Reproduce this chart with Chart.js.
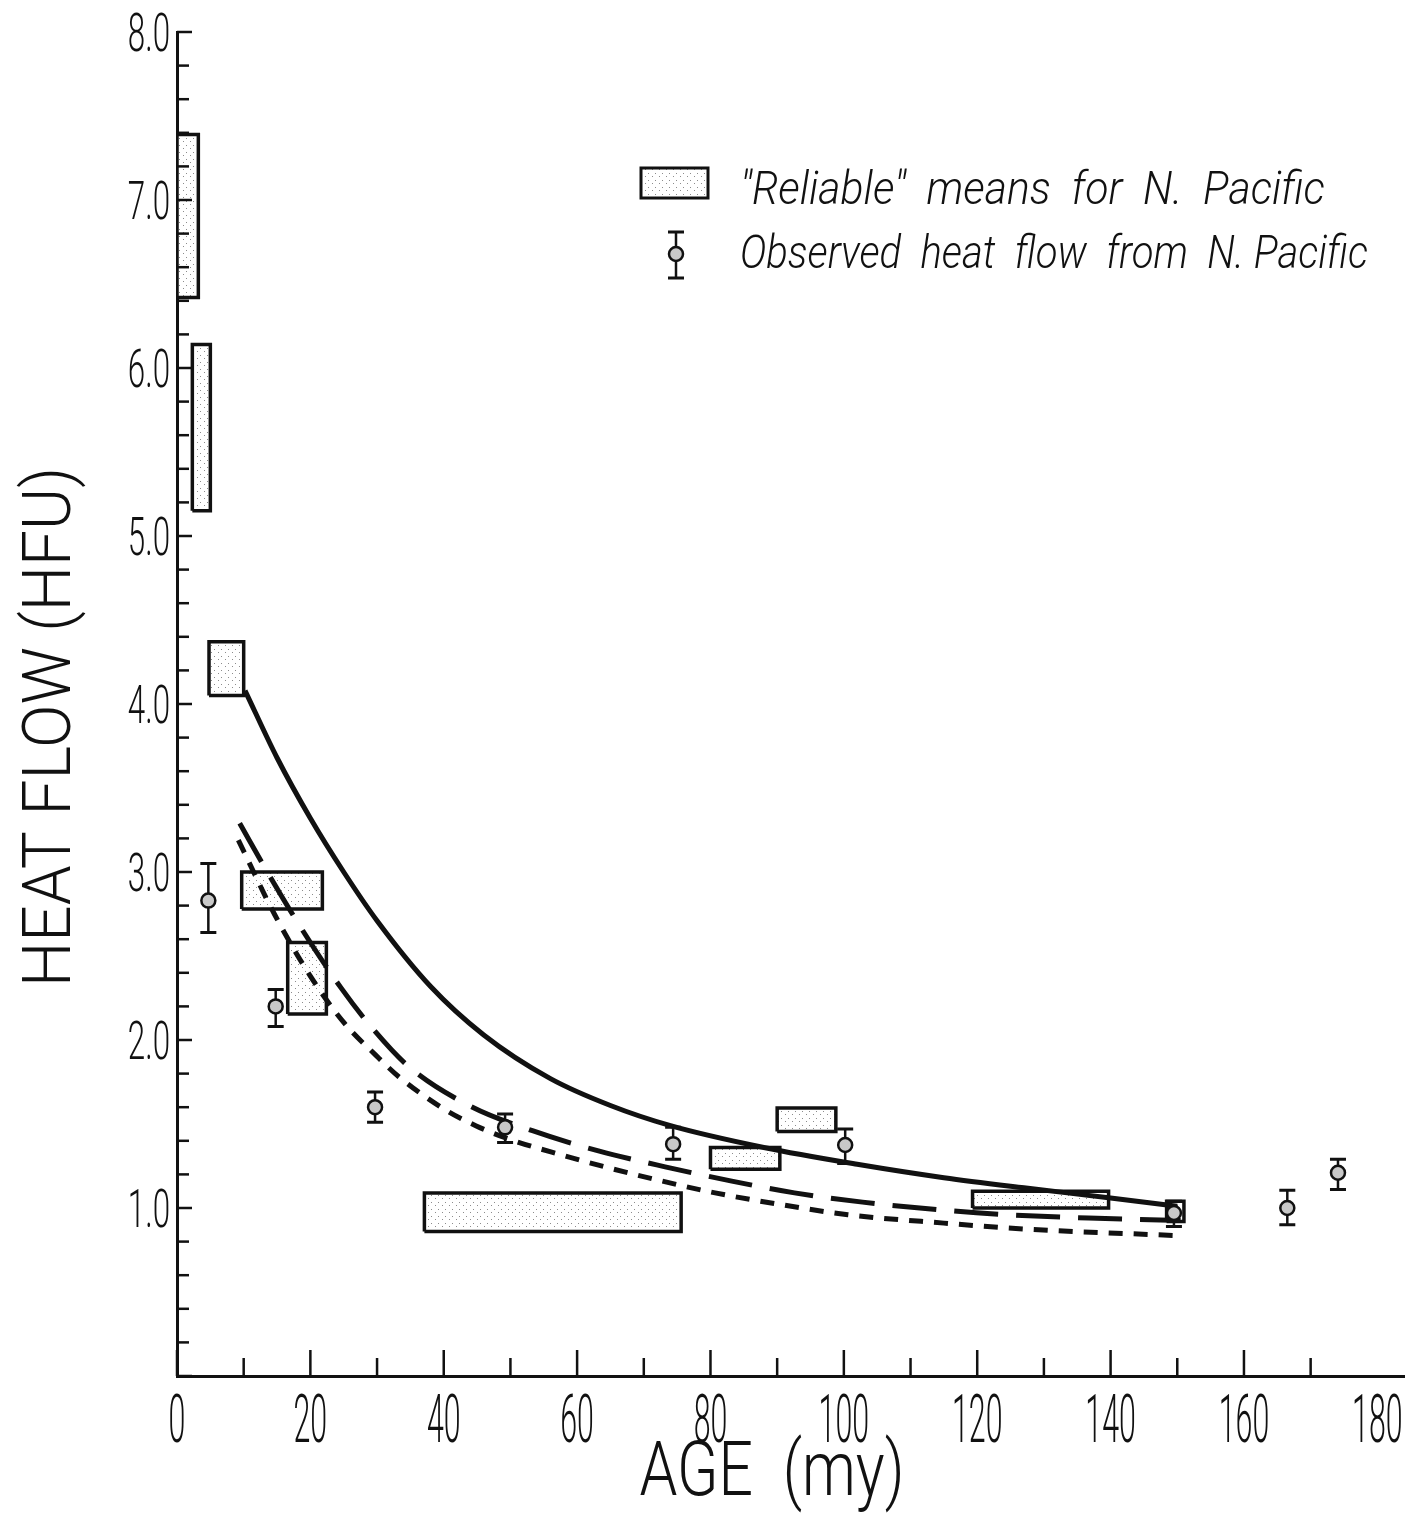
<!DOCTYPE html>
<html>
<head>
<meta charset="utf-8">
<script src="https://cdn.jsdelivr.net/npm/chart.js@4.4.1/dist/chart.umd.min.js"></script>
<style>html,body{margin:0;padding:0;background:#fff}canvas{display:block}</style>
</head>
<body>
<canvas id="c" width="1423" height="1517"></canvas>
<script>
// "Reliable" means for N. Pacific: age range (my) x heat flow range (HFU)
const boxAgeFrom  = [0, 2.3, 4.8, 9.7, 16.6, 37.1, 80.0, 90.0, 119.3, 148.4];
const boxAgeTo    = [3.2, 5.0, 10.0, 21.8, 22.4, 75.6, 90.4, 98.8, 139.7, 151.0];
const boxFlowLow  = [6.42, 5.15, 4.05, 2.78, 2.155, 0.86, 1.23, 1.455, 1.00, 0.92];
const boxFlowHigh = [7.39, 6.14, 4.37, 3.00, 2.58, 1.09, 1.36, 1.595, 1.10, 1.04];

// observed heat flow with error bars
const obsAge  = [4.7, 14.8, 29.7, 49.2, 74.4, 100.2, 149.5, 166.5, 174.1];
const obsFlow = [2.83, 2.20, 1.60, 1.48, 1.38, 1.375, 0.97, 1.00, 1.21];
const obsLow  = [2.64, 2.08, 1.51, 1.39, 1.29, 1.265, 0.89, 0.90, 1.11];
const obsHigh = [3.05, 2.30, 1.69, 1.56, 1.48, 1.47, 1.04, 1.105, 1.29];

// model curves
const solidAge  = [10.2, 15, 20, 25, 30, 38, 46, 56, 65, 74, 88, 102, 115, 127, 140, 150];
const solidFlow = [4.08, 3.68, 3.32, 3.00, 2.71, 2.32, 2.03, 1.77, 1.61, 1.49, 1.36, 1.26, 1.18, 1.12, 1.06, 1.01];

const longDashAge  = [9.4, 13.7, 18.4, 24.6, 29.3, 34.8, 43.8, 53.3, 63.2, 73.2, 83.2, 92.6, 102.8, 114, 124.5, 136.7, 150.5];
const longDashFlow = [3.29, 2.99, 2.68, 2.31, 2.07, 1.84, 1.61, 1.46, 1.34, 1.245, 1.16, 1.09, 1.035, 0.99, 0.96, 0.94, 0.925];

const shortDashAge  = [9.2, 14.6, 20, 25.1, 29.8, 33.3, 40, 44.8, 49.8, 58.2, 63.2, 71.7, 80.7, 90.6, 100.6, 115, 127, 150.5];
const shortDashFlow = [3.19, 2.75, 2.38, 2.10, 1.91, 1.78, 1.59, 1.49, 1.41, 1.31, 1.255, 1.17, 1.09, 1.02, 0.96, 0.91, 0.875, 0.835];

// axis labels
const xLabelValues = [0, 20, 40, 60, 80, 100, 120, 140, 160, 180];
const yLabelValues = [1, 2, 3, 4, 5, 6, 7, 8];
const legendLabels = ['"Reliable"  means  for  N.  Pacific', 'Observed  heat  flow  from  N. Pacific'];

const INK = '#111';
const FONT = 'Roboto, "Liberation Sans", sans-serif';

// light stipple for the boxes
const stipple = (() => {
  const pc = document.createElement('canvas');
  pc.width = 7; pc.height = 7;
  const p = pc.getContext('2d');
  p.fillStyle = '#fff'; p.fillRect(0, 0, 7, 7);
  p.fillStyle = 'rgba(0,0,0,0.45)';
  p.fillRect(1, 1, 1, 1); p.fillRect(4, 5, 1, 1);
  return p.createPattern(pc, 'repeat');
})();

const pts = (xs, ys) => xs.map((x, i) => ({x: x, y: ys[i]}));

const boxSets = boxAgeFrom.map((x0, i) => ({
  data: [
    {x: x0, y: boxFlowLow[i]}, {x: boxAgeTo[i], y: boxFlowLow[i]},
    {x: boxAgeTo[i], y: boxFlowHigh[i]}, {x: x0, y: boxFlowHigh[i]},
    {x: x0, y: boxFlowLow[i]}
  ],
  showLine: true,
  fill: 'shape',
  backgroundColor: stipple,
  borderColor: INK,
  borderWidth: 3.5,
  borderJoinStyle: 'miter',
  pointRadius: 0,
  tension: 0,
}));

const curve = (xs, ys, dash) => ({
  data: pts(xs, ys),
  showLine: true,
  fill: false,
  borderColor: INK,
  borderWidth: 5,
  borderDash: dash,
  cubicInterpolationMode: 'monotone',
  pointRadius: 0,
});

// condensed lettering, like the original stencil text
function letter(ctx, text, x, y, size, o) {
  ctx.save();
  ctx.font = (o.italic ? 'italic ' : '') + '300 ' + size + 'px ' + FONT;
  const w = ctx.measureText(text).width;
  const sx = o.width ? o.width / w : o.sx;
  ctx.translate(x, y);
  if (o.rotate) ctx.rotate(o.rotate);
  ctx.scale(sx, 1);
  ctx.textAlign = o.align || 'center';
  ctx.textBaseline = 'alphabetic';
  ctx.fillStyle = INK;
  ctx.fillText(text, 0, 0);
  ctx.restore();
}

function errorBar(ctx, px, top, bot) {
  ctx.strokeStyle = INK;
  ctx.lineWidth = 2.5;
  ctx.beginPath(); ctx.moveTo(px, top); ctx.lineTo(px, bot); ctx.stroke();
  ctx.lineWidth = 3;
  ctx.beginPath();
  ctx.moveTo(px - 8, top); ctx.lineTo(px + 8, top);
  ctx.moveTo(px - 8, bot); ctx.lineTo(px + 8, bot);
  ctx.stroke();
}

const decor = {
  id: 'decor',
  beforeDatasetsDraw(chart) {
    const {ctx, scales: {x, y}} = chart;
    ctx.save();
    obsAge.forEach((a, i) => errorBar(ctx, x.getPixelForValue(a), y.getPixelForValue(obsHigh[i]), y.getPixelForValue(obsLow[i])));
    ctx.restore();
  },
  afterDraw(chart) {
    const {ctx, chartArea: area, scales: {x, y}} = chart;
    ctx.save();
    ctx.strokeStyle = INK;
    ctx.lineWidth = 2.5;
    // inward tick marks
    y.ticks.forEach(t => {
      const py = y.getPixelForValue(t.value);
      const major = Math.abs(t.value - Math.round(t.value)) < 1e-6;
      ctx.beginPath(); ctx.moveTo(area.left, py); ctx.lineTo(area.left + (major ? 15 : 12), py); ctx.stroke();
    });
    x.ticks.forEach(t => {
      const px = x.getPixelForValue(t.value);
      const major = t.value % 20 === 0;
      ctx.beginPath(); ctx.moveTo(px, area.bottom); ctx.lineTo(px, area.bottom - (major ? 26 : 18)); ctx.stroke();
    });
    ctx.restore();

    // tick labels
    xLabelValues.forEach(v => letter(ctx, String(v), x.getPixelForValue(v), area.bottom + 66, 66, {sx: 0.46}));
    yLabelValues.forEach(v => letter(ctx, v.toFixed(1), area.left - 7, y.getPixelForValue(v) + 19, 54, {sx: 0.58, align: 'right'}));

    // axis titles
    letter(ctx, 'AGE  (my)', 772, 1495, 76, {width: 265});
    letter(ctx, 'HEAT FLOW (HFU)', 70, 727, 67, {width: 520, rotate: -Math.PI / 2});

    // legend
    ctx.save();
    ctx.fillStyle = stipple;
    ctx.fillRect(641, 168, 67, 30);
    ctx.strokeStyle = INK; ctx.lineWidth = 3;
    ctx.strokeRect(641, 168, 67, 30);
    errorBar(ctx, 676, 232, 278);
    ctx.beginPath(); ctx.arc(676, 254, 7, 0, Math.PI * 2);
    ctx.fillStyle = '#c8c8c8'; ctx.fill();
    ctx.lineWidth = 2.5; ctx.stroke();
    ctx.restore();
    letter(ctx, legendLabels[0], 740, 204, 46, {width: 585, align: 'left', italic: true});
    letter(ctx, legendLabels[1], 740, 268, 46, {width: 628, align: 'left', italic: true});
  }
};

new Chart(document.getElementById('c'), {
  type: 'scatter',
  data: {
    datasets: [
      {
        data: pts(obsAge, obsFlow),
        pointRadius: 7,
        pointStyle: 'circle',
        backgroundColor: '#c8c8c8',
        borderColor: INK,
        borderWidth: 2.5,
      },
      curve(solidAge, solidFlow, []),
      curve(longDashAge, longDashFlow, [44, 18]),
      curve(shortDashAge, shortDashFlow, [14, 11]),
      ...boxSets
    ]
  },
  options: {
    responsive: false,
    animation: false,
    devicePixelRatio: 1,
    layout: {padding: {top: 32, right: 19, left: 0, bottom: 0}},
    plugins: {legend: {display: false}, tooltip: {enabled: false}},
    scales: {
      x: {
        type: 'linear', min: 0, max: 184,
        ticks: {display: false, stepSize: 10},
        grid: {drawOnChartArea: false, drawTicks: false},
        border: {display: true, color: INK, width: 3},
        afterBuildTicks: s => { s.ticks = s.ticks.filter(t => t.value <= 180); },
        afterFit: s => { s.height = 141; },
      },
      y: {
        type: 'linear', min: 0, max: 8,
        ticks: {display: false, stepSize: 0.2},
        grid: {drawOnChartArea: false, drawTicks: false},
        border: {display: true, color: INK, width: 3},
        afterFit: s => { s.width = 177; },
      }
    }
  },
  plugins: [decor]
});
</script>
</body>
</html>
